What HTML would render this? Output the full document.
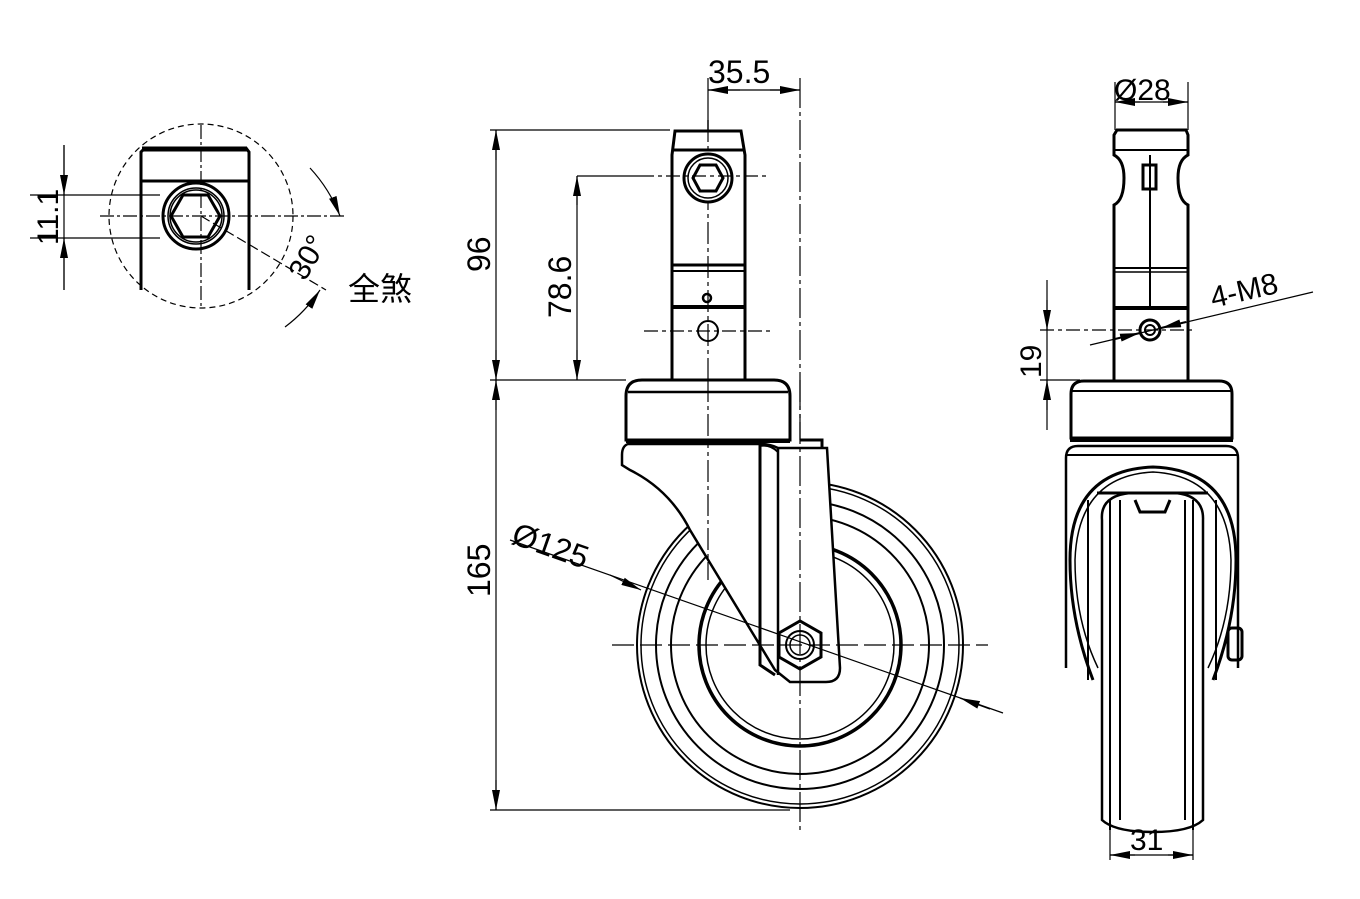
<!DOCTYPE html>
<html><head><meta charset="utf-8"><style>
html,body{margin:0;padding:0;background:#fff;}
svg{display:block;}
text{font-family:"Liberation Sans","Noto Sans CJK SC",sans-serif;fill:#000;}
</style></head><body>
<svg width="1360" height="899" viewBox="0 0 1360 899" xmlns="http://www.w3.org/2000/svg">
<defs>
<marker id="a" viewBox="0 0 20 8" refX="20" refY="4" markerWidth="20" markerHeight="8" markerUnits="userSpaceOnUse" orient="auto-start-reverse"><path d="M0,0L20,4L0,8z" fill="#000"/></marker>
</defs>
<g fill="none" stroke="#000" stroke-width="1.2">
<!-- ===== LEFT DETAIL ===== -->
<circle cx="201" cy="216" r="92" stroke-dasharray="6,4"/>
<line x1="201" y1="125" x2="201" y2="308" stroke-dasharray="14,3,3,3"/>
<line x1="100" y1="216" x2="345" y2="216" stroke-dasharray="14,3,3,3"/>
<path d="M141,290V152L145,148H246L249,152V290" stroke-width="3"/>
<line x1="142" y1="149" x2="247" y2="149" stroke-width="5"/>
<line x1="141" y1="181" x2="249" y2="181" stroke-width="3"/>
<circle cx="196" cy="216" r="33" stroke-width="3"/>
<circle cx="196" cy="216" r="28" stroke-width="1.5"/>
<circle cx="196" cy="216" r="26" stroke-width="1.5"/>
<polygon points="171,216 183,195 208,195 220,216 208,237 183,237" stroke-width="3"/>
<line x1="30" y1="195" x2="160" y2="195"/>
<line x1="30" y1="238" x2="160" y2="238"/>
<line x1="64" y1="145" x2="64" y2="290"/>
<line x1="64" y1="145" x2="64" y2="195" marker-end="url(#a)"/>
<line x1="64" y1="290" x2="64" y2="238" marker-end="url(#a)"/>
<line x1="201" y1="216" x2="326" y2="290" stroke-dasharray="10,4"/>
<path d="M310,168 A150,150 0 0 1 340,216" marker-end="url(#a)"/>
<path d="M285,327 A150,150 0 0 0 320,290" marker-end="url(#a)"/>
<!-- ===== MAIN VIEW ===== -->
<line x1="708" y1="78" x2="708" y2="130"/>
<line x1="708" y1="90" x2="800" y2="90"/>
<line x1="740" y1="90" x2="708" y2="90" marker-end="url(#a)"/>
<line x1="770" y1="90" x2="800" y2="90" marker-end="url(#a)"/>
<!-- wheel -->
<circle cx="800" cy="645" r="163" stroke-width="2"/>
<circle cx="800" cy="645" r="159" stroke-width="1.5"/>
<circle cx="800" cy="645" r="144" stroke-width="2"/>
<circle cx="800" cy="645" r="129" stroke-width="2"/>
<circle cx="800" cy="645" r="101" stroke-width="3.5"/>
<circle cx="800" cy="645" r="94" stroke-width="1.5"/>
<!-- fork (white filled over wheel) -->
<path d="M628,444Q622,446 622,455V465L630,470Q670,490 690,530L775,670L790,682H826Q840,682 840,668L827,448H778Q770,444 760,444Z" fill="#fff" stroke-width="2.5"/>
<path d="M760,444V665L775,675" stroke-width="3"/>
<path d="M778,448V675" stroke-width="2.5"/>
<path d="M760,446Q770,444 778,452" stroke-width="2"/>
<path d="M800,440H822V447" stroke-width="3"/>
<polygon points="779,633 800,621 821,633 821,657 800,669 779,657" fill="#fff" stroke-width="3"/>
<circle cx="800" cy="645" r="14" stroke-width="2"/>
<circle cx="800" cy="645" r="10" stroke-width="1.5"/>
<line x1="800" y1="78" x2="800" y2="830" stroke-dasharray="30,4,4,4"/>
<line x1="708" y1="120" x2="708" y2="580" stroke-dasharray="22,4,4,4"/>
<line x1="612" y1="645" x2="988" y2="645" stroke-dasharray="22,6"/>
<!-- stem -->
<path d="M672,380V155L675,131H741L745,155V380" fill="#fff" stroke-width="3"/>
<line x1="708" y1="120" x2="708" y2="380" stroke-dasharray="22,4,4,4"/>
<line x1="672" y1="150" x2="745" y2="150" stroke-width="3"/>
<line x1="672" y1="265" x2="745" y2="265" stroke-width="3"/>
<line x1="672" y1="271" x2="745" y2="271" stroke-width="2"/>
<line x1="672" y1="307" x2="745" y2="307" stroke-width="4"/>
<circle cx="708" cy="178" r="24" fill="#fff" stroke-width="3"/>
<circle cx="708" cy="178" r="20" stroke-width="1.5"/>
<polygon points="693,178 700,165 716,165 723,178 716,191 700,191" stroke-width="3"/>
<line x1="640" y1="176" x2="770" y2="176" stroke-dasharray="14,4,4,4"/>
<circle cx="707" cy="298" r="4" stroke-width="2.5"/>
<circle cx="708" cy="331" r="10" stroke-width="2"/>
<line x1="644" y1="331" x2="770" y2="331" stroke-dasharray="14,4,4,4"/>
<!-- mount plate -->
<path d="M626,440V396Q626,380 642,380H774Q790,380 790,396V440Z" fill="#fff" stroke-width="3"/>
<line x1="708" y1="380" x2="708" y2="440" stroke-dasharray="22,4,4,4"/>
<line x1="800" y1="380" x2="800" y2="440" stroke-dasharray="30,4,4,4"/>
<line x1="628" y1="392" x2="788" y2="392" stroke-width="2.5"/>
<line x1="626" y1="441" x2="790" y2="441" stroke-width="4"/>
<line x1="510" y1="540" x2="1003" y2="713"/>
<line x1="610" y1="575" x2="641" y2="590" marker-end="url(#a)"/>
<line x1="990" y1="709" x2="960" y2="698" marker-end="url(#a)"/>
<!-- dimensions -->
<line x1="490" y1="130" x2="670" y2="130"/>
<line x1="490" y1="380" x2="626" y2="380"/>
<line x1="490" y1="810" x2="790" y2="810"/>
<line x1="496" y1="130" x2="496" y2="810"/>
<line x1="496" y1="160" x2="496" y2="130" marker-end="url(#a)"/>
<line x1="496" y1="350" x2="496" y2="380" marker-end="url(#a)"/>
<line x1="496" y1="410" x2="496" y2="380" marker-end="url(#a)"/>
<line x1="496" y1="780" x2="496" y2="810" marker-end="url(#a)"/>
<line x1="577" y1="176" x2="640" y2="176"/>
<line x1="577" y1="176" x2="577" y2="380"/>
<line x1="577" y1="205" x2="577" y2="176" marker-end="url(#a)"/>
<line x1="577" y1="350" x2="577" y2="380" marker-end="url(#a)"/>
<!-- ===== RIGHT VIEW ===== -->
<line x1="1115" y1="82" x2="1115" y2="130"/>
<line x1="1188" y1="82" x2="1188" y2="130"/>
<line x1="1115" y1="102" x2="1188" y2="102"/>
<line x1="1140" y1="102" x2="1115" y2="102" marker-end="url(#a)"/>
<line x1="1163" y1="102" x2="1188" y2="102" marker-end="url(#a)"/>
<path d="M1114,380V205Q1124,200 1124,178Q1124,160 1114,155V135L1117,130H1186L1188,135V155Q1178,160 1178,178Q1178,200 1188,205V380" stroke-width="3"/>
<line x1="1115" y1="150" x2="1188" y2="150" stroke-width="2"/>
<line x1="1150" y1="155" x2="1150" y2="310" stroke-width="2"/>
<rect x="1143" y="165" width="13" height="24" stroke-width="3"/>
<line x1="1115" y1="268" x2="1188" y2="268" stroke-width="2"/>
<line x1="1115" y1="272" x2="1188" y2="272" stroke-width="1.5"/>
<line x1="1115" y1="308" x2="1188" y2="308" stroke-width="4"/>
<circle cx="1150" cy="330" r="10" stroke-width="3"/>
<circle cx="1150" cy="330" r="5" stroke-width="2"/>
<line x1="1040" y1="330" x2="1195" y2="330" stroke-dasharray="14,4,4,4"/>
<line x1="1090" y1="345" x2="1313" y2="292"/>
<line x1="1115" y1="339" x2="1140" y2="333" marker-end="url(#a)" stroke-width="2"/>
<line x1="1186" y1="322" x2="1161" y2="328" marker-end="url(#a)" stroke-width="2"/>
<line x1="1047" y1="280" x2="1047" y2="430"/>
<line x1="1047" y1="300" x2="1047" y2="330" marker-end="url(#a)"/>
<line x1="1047" y1="410" x2="1047" y2="380" marker-end="url(#a)"/>
<line x1="1040" y1="380" x2="1080" y2="380"/>
<path d="M1071,438V394Q1071,381 1084,381H1219Q1232,381 1232,394V438Z" stroke-width="3"/>
<line x1="1072" y1="391" x2="1231" y2="391" stroke-width="2"/>
<line x1="1070" y1="440" x2="1233" y2="440" stroke-width="4"/>
<path d="M1066,668V458Q1066,446 1078,446H1226Q1238,446 1238,458V668" stroke-width="2.5"/>
<line x1="1067" y1="455" x2="1237" y2="455" stroke-width="2"/>
<path d="M1093,680Q1070,620 1070,560Q1070,470 1153,467Q1236,470 1236,560Q1236,620 1213,680" stroke-width="3"/>
<path d="M1098,668Q1075,620 1075,560Q1078,476 1153,472Q1228,476 1231,560Q1231,620 1208,668" stroke-width="1.5"/>
<path d="M1102,820V520Q1100,496 1130,493H1176Q1204,496 1203,520V820Q1190,832 1153,832Q1115,832 1102,820Z" stroke-width="2.5"/>
<line x1="1110" y1="500" x2="1110" y2="830" stroke-width="2"/>
<line x1="1120" y1="500" x2="1120" y2="820" stroke-width="2"/>
<line x1="1185" y1="500" x2="1185" y2="820" stroke-width="2"/>
<line x1="1193" y1="500" x2="1193" y2="830" stroke-width="2"/>
<line x1="1097" y1="493" x2="1208" y2="493" stroke-width="3"/>
<path d="M1135,500L1140,512H1165L1170,500" stroke-width="3"/>
<line x1="1088" y1="500" x2="1088" y2="680" stroke-width="2"/>
<line x1="1216" y1="500" x2="1216" y2="680" stroke-width="2"/>
<rect x="1228" y="628" width="14" height="32" rx="4" stroke-width="3"/>
<line x1="1110" y1="830" x2="1110" y2="860"/>
<line x1="1193" y1="830" x2="1193" y2="860"/>
<line x1="1110" y1="855" x2="1193" y2="855"/>
<line x1="1135" y1="855" x2="1110" y2="855" marker-end="url(#a)"/>
<line x1="1168" y1="855" x2="1193" y2="855" marker-end="url(#a)"/>
</g>
<!-- texts -->
<text x="708" y="83" font-size="32">35.5</text>
<text transform="translate(490,272) rotate(-90)" font-size="32">96</text>
<text transform="translate(571,318) rotate(-90)" font-size="32">78.6</text>
<text transform="translate(490,597) rotate(-90)" font-size="32">165</text>
<text transform="translate(510,543) rotate(19.3)" font-size="32">Ø125</text>
<text transform="translate(58,245) rotate(-90)" font-size="30">11.1</text>
<text transform="translate(305,282) rotate(-60)" font-size="30">30°</text>
<text x="348" y="300" font-size="32">全煞</text>
<text x="1114" y="100" font-size="30">Ø28</text>
<text transform="translate(1213,308) rotate(-13)" font-size="30">4-M8</text>
<text transform="translate(1041,378) rotate(-90)" font-size="30">19</text>
<text x="1130" y="850" font-size="30">31</text>
</svg>
</body></html>
